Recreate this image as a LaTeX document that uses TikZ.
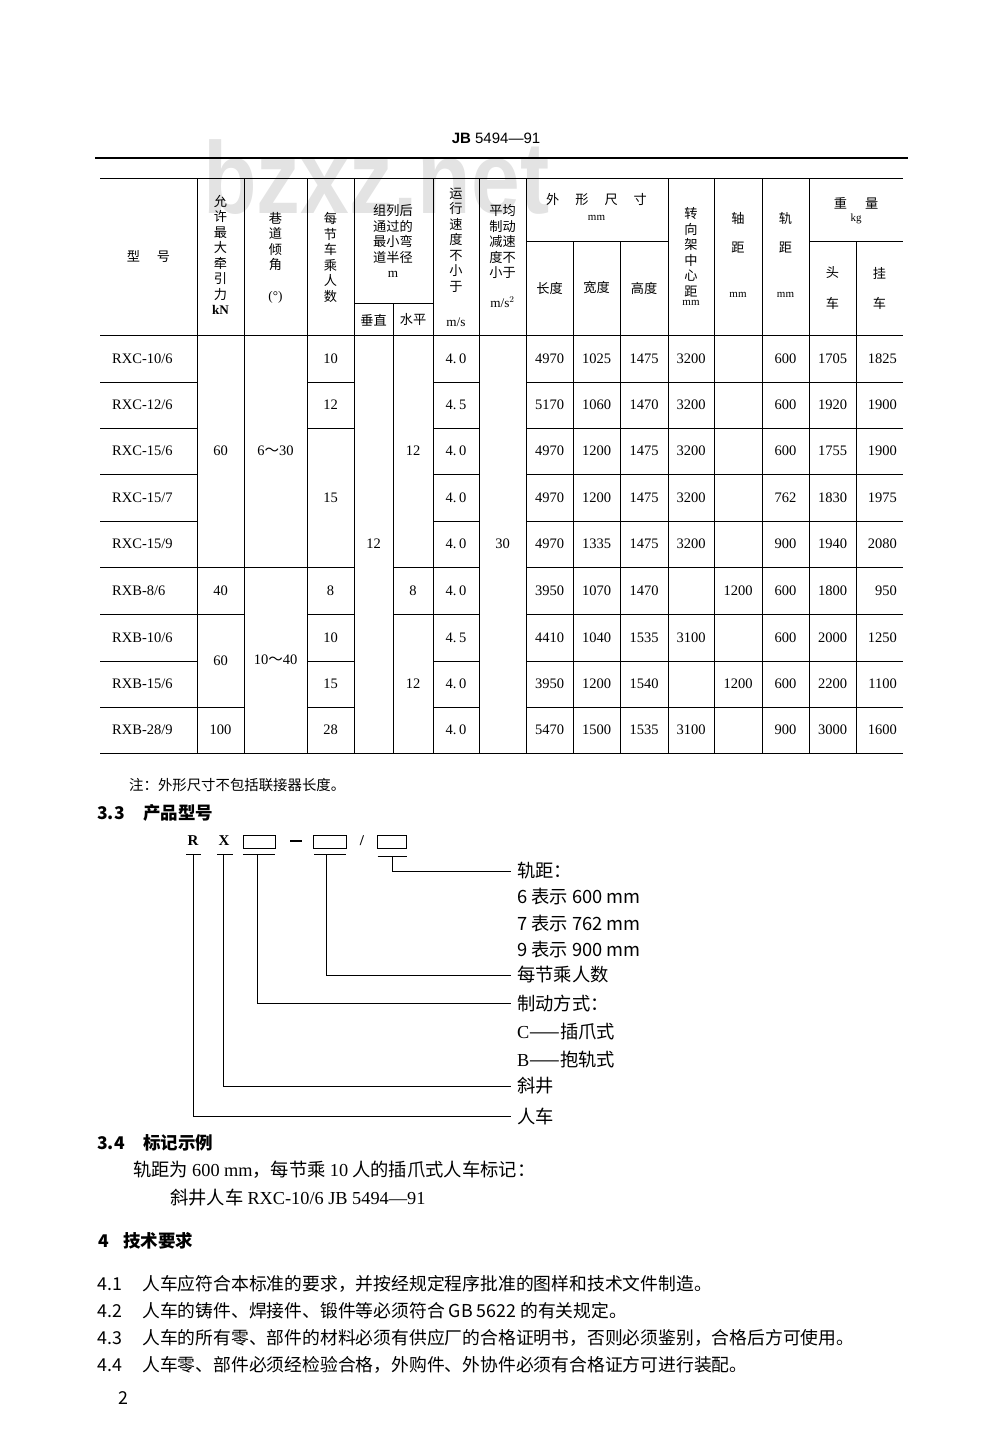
\documentclass[tikz,border=0pt]{standalone}
\usepackage{fontspec}
\setmainfont{Liberation Serif}
\newfontfamily\cjk{Noto Sans CJK SC}
\newfontfamily\wmfont{Liberation Sans}
\begin{document}
\begin{tikzpicture}[x=1pt,y=-1pt,
    rule/.style={line width=1.6pt},
    grid/.style={line width=1pt},
    lead/.style={line width=0.8pt},
    hdr/.style={font=\cjk\fontsize{13.2}{15.5}\selectfont,align=center,inner sep=0pt},
    unit/.style={font=\fontsize{11}{12}\selectfont,inner sep=0pt},
    cell/.style={font=\fontsize{14.5}{15}\selectfont,inner sep=0pt},
    code/.style={font=\bfseries\fontsize{15}{15}\selectfont,inner sep=0pt},
    codebox/.style={draw,line width=0.9pt,minimum height=13pt,inner sep=0pt},
    lbl/.style={font=\cjk\fontsize{18.3}{19}\selectfont,inner sep=0pt,anchor=west},
    body/.style={font=\cjk\fontsize{17.8}{19}\selectfont,inner sep=0pt,anchor=west},
    head/.style={font=\cjk\bfseries\fontsize{17.5}{18}\selectfont,inner sep=0pt,anchor=west}]
\useasboundingbox (0,0) rectangle (1000,1434);
% watermark
\node[font=\wmfont\bfseries\fontsize{102}{102}\selectfont,text=black!11,inner sep=0pt,anchor=base west] (wm) at (203,213) {\scalebox{0.86}[1]{bzxz.net}};
% page head
\node[font=\wmfont\fontsize{15}{15}\selectfont,inner sep=0pt] (pagehd) at (496,138) {\textbf{JB} 5494—91};
\draw[rule] (95,158) -- (908,158);
% table frame
\draw[grid] (100,179) -- (903,179);
\draw[grid] (100,335) -- (903,335);
\draw[grid] (100,753) -- (903,753);
\foreach \x in {197,244,307,354,433,479,526,668,714,762,809}
    \draw[grid] (\x,179) -- (\x,753);
\foreach \x in {573,620,856}
    \draw[grid] (\x,241) -- (\x,753);
\draw[grid] (393,303) -- (393,753);
\draw[grid] (354,303) -- (433,303);
\draw[grid] (526,241) -- (668,241);
\draw[grid] (809,241) -- (903,241);
\foreach \y in {382,428,474,521,567,614,661,707} {
    \draw[grid] (100,\y) -- (197,\y);
    \draw[grid] (433,\y) -- (479,\y);
    \draw[grid] (526,\y) -- (903,\y);
}
\foreach \y in {382,428,567,614,661,707}
    \draw[grid] (307,\y) -- (354,\y);
\foreach \y in {567,614,707}
    \draw[grid] (197,\y) -- (244,\y);
\draw[grid] (244,567) -- (307,567);
\foreach \y in {567,614}
    \draw[grid] (393,\y) -- (433,\y);
% table head
\node[hdr] (hModel) at (148.5,257) {型\hspace{17pt}号};
\node[hdr] (hPull) at (220.5,255) {允\\许\\最\\大\\牵\\引\\力\\{\rmfamily\bfseries kN}};
\node[hdr] (hSlope) at (275.5,257.5) {巷\\道\\倾\\角\\[15pt]{\rmfamily (°)}};
\node[hdr] (hSeats) at (330.5,257.5) {每\\节\\车\\乘\\人\\数};
\node[hdr] (hRadius) at (393,241) {组列后\\通过的\\最小弯\\道半径\\{\rmfamily m}};
\node[hdr] (hVert) at (373.5,320) {垂直};
\node[hdr] (hHoriz) at (413,320) {水平};
\node[hdr] (hSpeed) at (456,257.5) {运\\行\\速\\度\\不\\小\\于\\[20pt]{\rmfamily m/s}};
\node[hdr] (hDecel) at (502.5,256) {平均\\制动\\减速\\度不\\小于\\[14pt]{\rmfamily m/s$^2$}};
\node[hdr] (hSize) at (596.5,200) {外\hspace{16pt}形\hspace{16pt}尺\hspace{16pt}寸};
\node[unit] (hSizeU) at (596.5,218) {mm};
\node[hdr] (hLen) at (549.5,288) {长度};
\node[hdr] (hWid) at (596.5,288) {宽度};
\node[hdr] (hHgt) at (644,288) {高度};
\node[hdr] (hBogie) at (691,252) {转\\向\\架\\中\\心\\距};
\node[unit] (hBogieU) at (691,303) {mm};
\node[hdr] (hAxle) at (738,218) {轴};
\node[hdr] (hAxle2) at (738,248) {距};
\node[unit] (hAxleU) at (738,295) {mm};
\node[hdr] (hGauge) at (785.5,218) {轨};
\node[hdr] (hGauge2) at (785.5,248) {距};
\node[unit] (hGaugeU) at (785.5,295) {mm};
\node[hdr] (hMass) at (856,203) {重\hspace{18pt}量};
\node[unit] (hMassU) at (856,219) {kg};
\node[hdr] (hHead) at (832.5,273) {头};
\node[hdr] (hHead2) at (832.5,303) {车};
\node[hdr] (hTrail) at (879.5,273) {挂};
\node[hdr] (hTrail2) at (879.5,303) {车};
% table body
\foreach \y/\model/\sp/\len/\wid/\hgt/\bog/\axl/\gau/\hd/\tr [count=\r] in {
    358.5/{RXC-10/6}/0/4970/1025/1475/3200/{}/600/1705/1825,
    405/{RXC-12/6}/5/5170/1060/1470/3200/{}/600/1920/1900,
    451/{RXC-15/6}/0/4970/1200/1475/3200/{}/600/1755/1900,
    497.5/{RXC-15/7}/0/4970/1200/1475/3200/{}/762/1830/1975,
    544/{RXC-15/9}/0/4970/1335/1475/3200/{}/900/1940/2080,
    590.5/{RXB-8/6}/0/3950/1070/1470/{}/1200/600/1800/950,
    637.5/{RXB-10/6}/5/4410/1040/1535/3100/{}/600/2000/1250,
    684/{RXB-15/6}/0/3950/1200/1540/{}/1200/600/2200/1100,
    730/{RXB-28/9}/0/5470/1500/1535/3100/{}/900/3000/1600} {
    \node[cell,anchor=west] (model\r) at (112,\y) {\model};
    \node[cell] (speed\r) at (456,\y) {4.\hspace{2.5pt}\sp};
    \node[cell] (len\r) at (549.5,\y) {\len};
    \node[cell] (wid\r) at (596.5,\y) {\wid};
    \node[cell] (hgt\r) at (644,\y) {\hgt};
    \node[cell] (bog\r) at (691,\y) {\bog};
    \node[cell] (axl\r) at (738,\y) {\axl};
    \node[cell] (gau\r) at (785.5,\y) {\gau};
    \node[cell] (hd\r) at (832.5,\y) {\hd};
    \node[cell,anchor=east] (tr\r) at (897,\y) {\tr};
}
\node[cell] (pullA) at (220.5,451) {60};
\node[cell] (pullB) at (220.5,590.5) {40};
\node[cell] (pullC) at (220.5,660.5) {60};
\node[cell] (pullD) at (220.5,730) {100};
\node[cell] (slopeA) at (275.5,451) {6{\cjk ～}30};
\node[cell] (slopeB) at (275.5,660) {10{\cjk ～}40};
\foreach \y/\v [count=\r] in {358.5/10,405/12,497.5/15,590.5/8,637.5/10,684/15,730/28}
    \node[cell] (seats\r) at (330.5,\y) {\v};
\node[cell] (vert) at (373.5,544) {12};
\node[cell] (horizA) at (413,451) {12};
\node[cell] (horizB) at (413,590.5) {8};
\node[cell] (horizC) at (413,684) {12};
\node[cell] (decel) at (502.5,544) {30};
\node[font=\cjk\fontsize{14.4}{15}\selectfont,inner sep=0pt,anchor=west] (note) at (129,785) {注：外形尺寸不包括联接器长度。};
% 3.3
\node[head] (s33) at (97,813) {3.3};
\node[head] (s33t) at (143,813) {产品型号};
\node[code] (cR) at (193,841) {R};
\node[code] (cX) at (224,841) {X};
\node[codebox,minimum width=32pt] (cB1) at (259,841.5) {};
\node[inner sep=0pt] (cDash) at (296,841) {\rule{12pt}{1.1pt}};
\node[codebox,minimum width=33pt] (cB2) at (330,841.5) {};
\node[code] (cSlash) at (362,841) {/};
\node[codebox,minimum width=29pt] (cB3) at (391.5,841.5) {};
\node[lbl] (lGauge) at (517,871) {轨距：};
\node[lbl] (lG6) at (517,897) {6 表示 600 mm};
\node[lbl] (lG7) at (517,924) {7 表示 762 mm};
\node[lbl] (lG9) at (517,950) {9 表示 900 mm};
\node[lbl] (lSeats) at (517,975) {每节乘人数};
\node[lbl] (lBrake) at (517,1003) {制动方式：};
\node[lbl] (lBrC) at (517,1032) {{\rmfamily C}——插爪式};
\node[lbl] (lBrB) at (517,1060) {{\rmfamily B}——抱轨式};
\node[lbl] (lShaft) at (517,1086) {斜井};
\node[lbl] (lRen) at (517,1116) {人车};
\coordinate (uR) at (193.5,854);
\coordinate (uX) at (223,854);
\coordinate (uB1) at (257,854);
\coordinate (uB2) at (326,854);
\coordinate (uB3) at (392,856);
\draw[lead] (uR) ++(-7.5,0) -- ++(15,0);
\draw[lead] (uX) ++(-6,0) -- ++(16,0);
\draw[lead] (uB1) ++(-14,0) -- ++(32,0);
\draw[lead] (uB2) ++(-12,0) -- ++(32,0);
\draw[lead] (uB3) ++(-14.5,0) -- ++(29,0);
\draw[lead] (uR) |- ([xshift=-6pt]lRen.west);
\draw[lead] (uX) |- ([xshift=-6pt]lShaft.west);
\draw[lead] (uB1) |- ([xshift=-6pt]lBrake.west);
\draw[lead] (uB2) |- ([xshift=-6pt]lSeats.west);
\draw[lead] (uB3) |- ([xshift=-6pt]lGauge.west);
% 3.4
\node[head] (s34) at (97,1143) {3.4};
\node[head] (s34t) at (143,1143) {标记示例};
\node[lbl] (ex1) at (133,1170) {轨距为 {\rmfamily 600 mm}，每节乘 {\rmfamily 10} 人的插爪式人车标记：};
\node[lbl] (ex2) at (170,1198) {斜井人车 {\rmfamily RXC-10/6 JB 5494—91}};
% 4
\node[head] (s4) at (98,1241) {4};
\node[head] (s4t) at (123,1241) {技术要求};
\foreach \y/\n/\t in {1284/4.1/人车应符合本标准的要求，并按经规定程序批准的图样和技术文件制造。,
    1311/4.2/人车的铸件、焊接件、锻件等必须符合 GB 5622 的有关规定。,
    1338/4.3/人车的所有零、部件的材料必须有供应厂的合格证明书，否则必须鉴别，合格后方可使用。,
    1365/4.4/人车零、部件必须经检验合格，外购件、外协件必须有合格证方可进行装配。} {
    \node[body] (num\n) at (97,\y) {\n};
    \node[body] (req\n) at (142,\y) {\t};
}
\node[body] (pageno) at (118,1398) {2};
\end{tikzpicture}
\end{document}
